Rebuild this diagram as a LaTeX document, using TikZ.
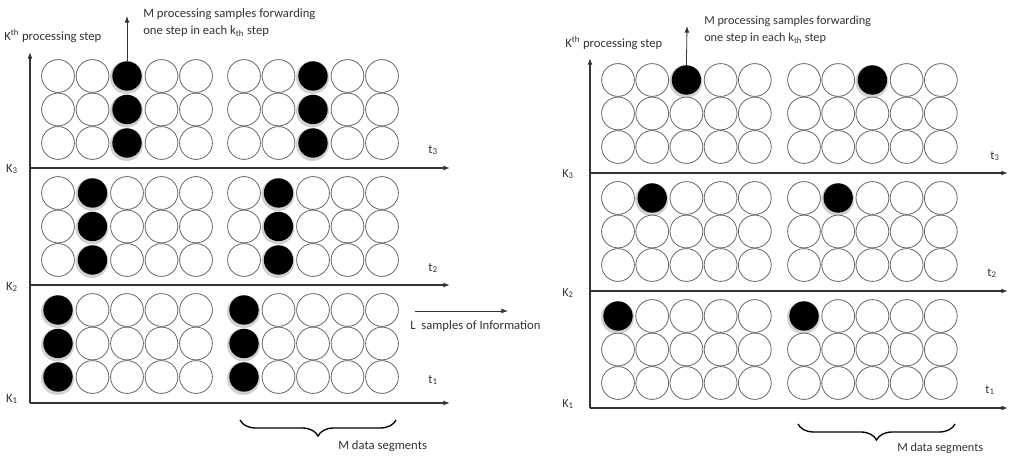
\documentclass[tikz,border=0pt]{standalone}
\usepackage{fontspec}
\setmainfont{Carlito}
\usetikzlibrary{arrows.meta,decorations.pathreplacing}

\tikzset{
  wc/.style={circle, draw=black!60, line width=0.6pt, fill=white, minimum size=24.6pt, inner sep=0pt, outer sep=0pt},
  bc/.style={circle, fill=black, minimum size=22pt, inner sep=0pt, outer sep=0pt},
  halo/.style={fill=black!18},
  axis/.style={draw=black!80, line width=0.8pt, -{Latex[length=5pt,width=3.6pt]}},
  uparrow/.style={draw=black!80, line width=0.6pt, -{Latex[length=5pt,width=3.6pt]}},
  lbl/.style={font=\fontsize{9.5}{12.75}\selectfont, text=black!80, inner sep=0pt},
  lbls/.style={font=\fontsize{9.2}{13.5}\selectfont, text=black!80, inner sep=0pt},
  brc/.style={draw=black, line width=1pt, decorate, decoration={brace, mirror, amplitude=12pt}},
}

\newcommand\circgrid[8]{%
  \foreach \b in {1,2,3}{
    \foreach \g/\gx in {1/#2,2/#3}{
      \foreach \r in {1,2,3}{
        \foreach \c in {1,2,3,4,5}{
          \pgfmathsetmacro\xx{\gx+(\c-1)*#5}
          \pgfmathsetmacro\yy{#4+(\b-1)*#7+(\r-1)*#6}
          \pgfmathtruncatemacro\isb{(\c==(4-\b))*(\r<=#8)}
          \ifnum\isb=1
            \fill[halo] (\xx-0.5,\yy+1.5) circle[radius=16.5];
            \node[bc] (#1-\b-\g-\r-\c) at (\xx,\yy) {};
          \else
            \node[wc] (#1-\b-\g-\r-\c) at (\xx,\yy) {};
          \fi
        }}}}}

\begin{document}
\begin{tikzpicture}[x=0.75pt,y=-0.75pt]
\useasboundingbox[fill=white] (0,0) rectangle (1016,456);

% ---------------- LEFT DIAGRAM ----------------
\circgrid{L}{58}{244}{76}{34.5}{33.5}{117}{3}

\coordinate (LO) at (30,403);
\coordinate (LT) at (30,52);
\coordinate (L3a) at (30,168); \coordinate (L3b) at (450,168);
\coordinate (L2a) at (30,285); \coordinate (L2b) at (450,285);
\coordinate (L1b) at (450,403);
\draw[axis] (LO) -- (LT);
\draw[axis] (L3a) -- (L3b);
\draw[axis] (L2a) -- (L2b);
\draw[axis] (LO) -- (L1b);

\node[lbl, anchor=west] (Lk) at (4,36) {K\textsuperscript{th} processing step};
\coordinate (Lup2) at (127,16);
\draw[uparrow] (L-1-1-1-3.north) -- (Lup2);
\node[lbl, anchor=west] (Lm1) at (143,14) {M processing samples forwarding};
\node[lbl, anchor=west] (Lm2) at (143,31) {one step in each k\textsubscript{th} step};

\node[lbl] (LK3) at (12,169) {K\textsubscript{3}};
\node[lbl] (LK2) at (12,287) {K\textsubscript{2}};
\node[lbl] (LK1) at (12,399) {K\textsubscript{1}};
\node[lbl] (Lt3) at (433,150) {t\textsubscript{3}};
\node[lbl] (Lt2) at (433,268) {t\textsubscript{2}};
\node[lbl] (Lt1) at (433,380) {t\textsubscript{1}};

\coordinate (Ls1) at (415,311);
\coordinate (Ls2) at (508,311);
\draw[uparrow] (Ls1) -- (Ls2);
\node[lbl, anchor=west] (Lls) at (410,326) {L~~samples of Information};

\coordinate (Lb1) at (240,420);
\coordinate (Lb2) at (396,420);
\draw[brc] (Lb1) -- (Lb2);
\node[lbl, anchor=west] (Lmd) at (338,446) {M data segments};

% ---------------- RIGHT DIAGRAM ----------------
\circgrid{R}{618}{804}{80}{34.2}{33.5}{118}{1}

\coordinate (RO) at (590,408);
\coordinate (RT) at (590,58);
\coordinate (R3a) at (590,173); \coordinate (R3b) at (1008,173);
\coordinate (R2a) at (590,291); \coordinate (R2b) at (1008,291);
\coordinate (R1b) at (1008,408);
\draw[axis] (RO) -- (RT);
\draw[axis] (R3a) -- (R3b);
\draw[axis] (R2a) -- (R2b);
\draw[axis] (RO) -- (R1b);

\node[lbl, anchor=west] (Rk) at (565,43) {K\textsuperscript{th} processing step};
\coordinate (Rup2) at (687,26);
\draw[uparrow] (R-1-1-1-3.north) -- (Rup2);
\node[lbls, anchor=west] (Rm1) at (704,21) {M processing samples forwarding};
\node[lbls, anchor=west] (Rm2) at (704,38) {one step in each k\textsubscript{th} step};

\node[lbls] (RK3) at (568,174) {K\textsubscript{3}};
\node[lbls] (RK2) at (568,293) {K\textsubscript{2}};
\node[lbls] (RK1) at (568,404) {K\textsubscript{1}};
\node[lbls] (Rt3) at (995,156) {t\textsubscript{3}};
\node[lbls] (Rt2) at (992,273) {t\textsubscript{2}};
\node[lbls] (Rt1) at (990,390) {t\textsubscript{1}};

\coordinate (Rb1) at (798,424);
\coordinate (Rb2) at (955,424);
\draw[brc] (Rb1) -- (Rb2);
\node[lbls, anchor=west] (Rmd) at (897,448) {M data segments};
\end{tikzpicture}
\end{document}
